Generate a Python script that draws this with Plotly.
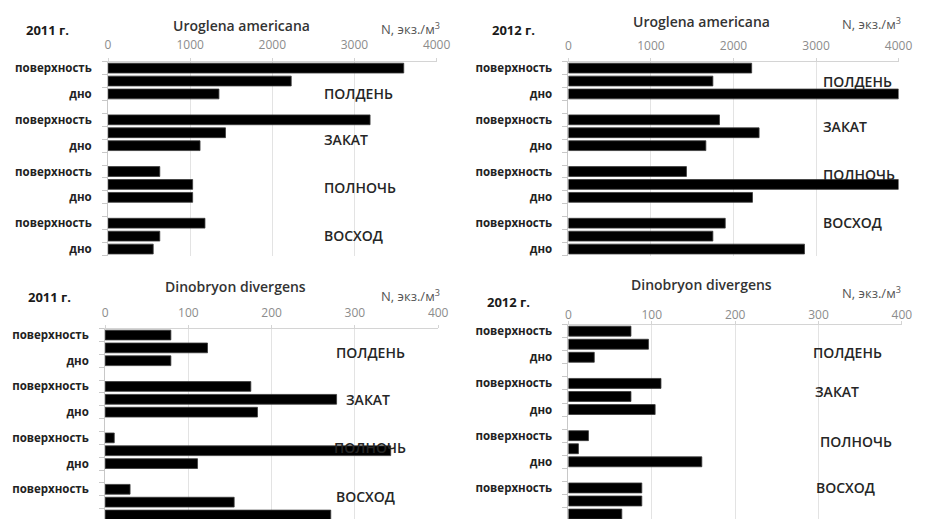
import plotly.graph_objects as go

W, H = 927, 520

groups = ["ПОЛДЕНЬ", "ЗАКАТ", "ПОЛНОЧЬ", "ВОСХОД"]
row_labels = ["поверхность", "", "дно"]

# N, экз./м³ per group: [поверхность, середина, дно]
uro_2011 = [[3600, 2230, 1350], [3190, 1430, 1120], [630, 1030, 1030], [1180, 630, 550]]
uro_2012 = [[2220, 1750, 4000], [1830, 2310, 1665], [1430, 4000, 2230], [1900, 1750, 2860]]
din_2011 = [[79, 123, 79], [175, 278, 183], [11, 343, 111], [30, 155, 271]]
din_2012 = [[75, 96, 31], [111, 75, 104], [24, 12, 160], [88, 88, 64]]

species = ["Uroglena americana", "Dinobryon divergens"]
years = ["2011 г.", "2012 г."]
unit = "N, экз./м<sup>3</sup>"

FONT = "Open Sans"

panels = [
    dict(data=uro_2011, x0=107, x1=441.7, top=60, slot=13.0, xmax=4000, dtick=1000,
         year=years[0], sp=species[0], year_xy=(45, 28), sp_xy=(243, 24), unit_xy=(447, 27), std=4,
         glab=[(325, 92), (325, 138), (325, 187), (325, 235)]),
    dict(data=uro_2012, x0=576, x1=912.3, top=60, slot=13.0, xmax=4000, dtick=1000,
         year=years[1], sp=species[0], year_xy=(520, 28), sp_xy=(712, 20), unit_xy=(917, 22), std=3,
         glab=[(833, 80), (833, 125), (833, 173), (833, 222)]),
    dict(data=din_2011, x0=104, x1=443.3, top=328.5, slot=12.93, xmax=400, dtick=100,
         year=years[0], sp=species[1], year_xy=(47, 297), sp_xy=(237, 286), unit_xy=(447, 295), std=3,
         glab=[(337, 353), (347, 400), (335, 448), (337, 497)]),
    dict(data=din_2012, x0=576, x1=915.7, top=324.5, slot=13.14, xmax=400, dtick=100,
         year=years[1], sp=species[1], year_xy=(515, 302), sp_xy=(712, 284), unit_xy=(917, 292), std=-3,
         glab=[(823, 353), (825, 392), (830, 442), (826, 488)]),
]

fig = go.Figure()
annotations = []


def px_x(x):
    return x / W


def px_y(y):
    return 1 - y / H


for i, p in enumerate(panels):
    n = i + 1
    xa = "x" if n == 1 else f"x{n}"
    ya = "y" if n == 1 else f"y{n}"

    xs, ys = [], []
    for g, vals in enumerate(p["data"]):
        for r, v in enumerate(vals):
            xs.append(v)
            ys.append(g * 4 + r)

    fig.add_trace(go.Bar(
        x=xs, y=ys, orientation="h", width=0.76,
        marker=dict(color="#000000", line=dict(color="#3a3a3a", width=0.8)),
        xaxis=xa, yaxis=ya, showlegend=False, hoverinfo="x",
    ))

    bottom = min(p["top"] + 15 * p["slot"], H)
    ybot = -0.5 + (bottom - p["top"]) / p["slot"]

    tickvals, ticktext = [], []
    for g in range(len(groups)):
        for r, lab in enumerate(row_labels):
            if lab:
                tickvals.append(g * 4 + r)
                ticktext.append(lab)

    fig.layout[f"xaxis{'' if n == 1 else n}"] = dict(
        domain=[px_x(p["x0"]), px_x(p["x1"])], anchor=ya, side="top",
        range=[0, p["xmax"]], tickmode="linear", tick0=0, dtick=p["dtick"],
        showgrid=True, gridcolor="#e3e3e3", gridwidth=1,
        showline=True, linecolor="#d4d4d4", ticks="outside", ticklen=3,
        tickcolor="#d4d4d4", zeroline=False, ticklabelstandoff=p["std"],
        tickfont=dict(family=FONT, size=12, color="#8c8c8c"), fixedrange=True,
    )
    fig.layout[f"yaxis{'' if n == 1 else n}"] = dict(
        domain=[px_y(bottom), px_y(p["top"])], anchor=xa,
        range=[ybot, -0.5], tickmode="array", tickvals=tickvals, ticktext=ticktext,
        ticks="outside", ticklen=13, tickcolor="rgba(0,0,0,0)",
        showgrid=False, zeroline=False,
        showline=True, linecolor="#c8c8c8",
        minor=dict(tick0=0.5, dtick=1, ticks="outside", ticklen=5, tickcolor="#c8c8c8",
                   showgrid=False),
        tickfont=dict(family=FONT, size=11.5, color="#222222", weight=700), fixedrange=True,
    )

    annotations.append(dict(
        x=px_x(p["year_xy"][0]), y=px_y(p["year_xy"][1]), xref="paper", yref="paper",
        text=p["year"], showarrow=False, xanchor="center", yanchor="middle",
        font=dict(family=FONT, size=13, color="#1a1a1a", weight=700)))
    annotations.append(dict(
        x=px_x(p["sp_xy"][0]), y=px_y(p["sp_xy"][1]), xref="paper", yref="paper",
        text=p["sp"], showarrow=False, xanchor="center", yanchor="middle",
        font=dict(family=FONT, size=14, color="#333333", weight=600)))
    annotations.append(dict(
        x=px_x(p["unit_xy"][0]), y=px_y(p["unit_xy"][1]), xref="paper", yref="paper",
        text=unit, showarrow=False, xanchor="right", yanchor="middle",
        font=dict(family=FONT, size=13, color="#555555")))
    for name, (gx, gy) in zip(groups, p["glab"]):
        annotations.append(dict(
            x=px_x(gx), y=px_y(gy), xref="paper", yref="paper",
            text=name, showarrow=False, xanchor="left", yanchor="middle",
            font=dict(family=FONT, size=14, color="#262626", weight=600)))

fig.update_layout(
    width=W, height=H, margin=dict(l=0, r=0, t=0, b=0),
    paper_bgcolor="white", plot_bgcolor="white",
    bargap=0.24, annotations=annotations,
)

fig.write_html("out.html")
